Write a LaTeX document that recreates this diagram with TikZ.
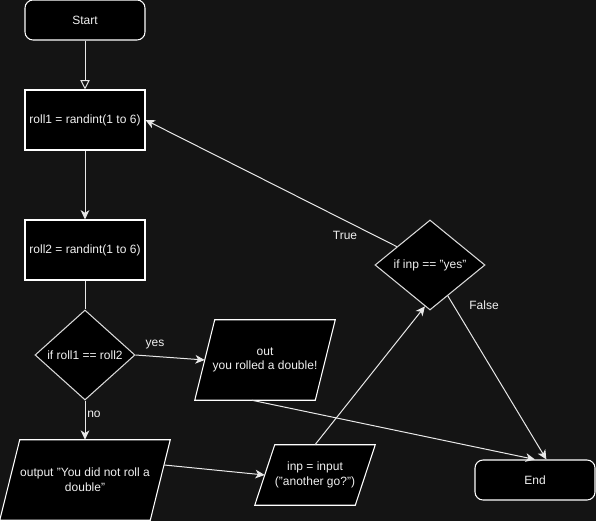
\documentclass[tikz,border=0pt]{standalone}
\usepackage{fontspec}
\setmainfont{Liberation Sans}
\usetikzlibrary{shapes.geometric,arrows.meta,calc,backgrounds}
\definecolor{bg}{HTML}{141414}
\definecolor{fg}{HTML}{F0F0F0}
\definecolor{ln}{HTML}{E8E8E8}
\begin{document}
\begin{tikzpicture}[x=0.75pt,y=-0.75pt,
  font=\fontsize{9}{11}\selectfont, text=fg,
  boxnode/.style={draw=white, fill=black, line width=0.8pt, minimum width=90pt, minimum height=45pt, inner sep=0pt, align=center},
  termnode/.style={boxnode, minimum height=30pt, rounded corners=6pt},
  decnode/.style={diamond, draw=white!85!black, fill=black, line width=0.8pt, inner sep=0pt, minimum height=67.5pt, align=center},
  ionode/.style={inner sep=0pt, minimum height=60pt, align=center},
  para/.style={draw=white, fill=black, line width=0.8pt},
  conn/.style={draw=ln, line width=0.75pt},
  arr/.style={conn, -{Stealth[length=7pt,width=6.5pt,inset=2pt]}},
  lbl/.style={inner sep=1pt}
]
\useasboundingbox (0,0) rectangle (596,521);
% nodes
\node[termnode] (start) at (85,20) {Start};
\node[boxnode] (roll1) at (85,120) {roll1 = randint(1 to 6)};
\node[boxnode] (roll2) at (85,250) {roll2 = randint(1 to 6)};
\node[decnode, minimum width=75pt] (d1) at (85,355) {if roll1 == roll2};
\node[ionode, minimum width=90pt] (p1) at (265,360) {out\\you rolled a double!};
\node[ionode, minimum width=112.5pt] (p2) at (85,480) {output "You did not roll a\\double"};
\node[ionode, minimum width=75pt, minimum height=45pt] (p3) at (315,475) {inp = input\\("another go?")};
\node[decnode, minimum width=82.5pt] (d2) at (430,265) {if inp == "yes"};
\node[termnode] (end) at (535,480) {End};
% labels
\node[lbl] (lyes) at (155,345) {yes};
\node[lbl] (lno) at (94,414) {no};
\node[lbl] (ltrue) at (345,235) {True};
\node[lbl] (lfalse) at (484,305) {False};
% parallelogram outlines behind text
\begin{pgfonlayer}{background}
\fill[bg] (0,0) rectangle (596,521);
\foreach \n in {p1,p2,p3}
  \draw[para] ($(\n.north west)+(10,0)$) -- ($(\n.north east)+(10,0)$) -- ($(\n.south east)+(-10,0)$) -- ($(\n.south west)+(-10,0)$) -- cycle;
\end{pgfonlayer}
% connectors
\draw[conn, -{Triangle[open,length=7pt,width=7pt]}] (start) -- (roll1);
\draw[arr] (roll1) -- (roll2);
\draw[conn] (roll2) -- (d1);
\draw[arr] (d1.east) -- (p1.west);
\draw[arr] (d1.south) -- (p2.north);
\draw[arr] (p1.-108) -- (end.north);
\draw[arr] ($(p2.east)+(4,-15)$) -- (p3.west);
\draw[arr] (p3.north) -- (d2.-97);
\draw[arr] (d2.151) -- (roll1.east);
\draw[arr] (d2.-60) -- (end.61);
\end{tikzpicture}
\end{document}
